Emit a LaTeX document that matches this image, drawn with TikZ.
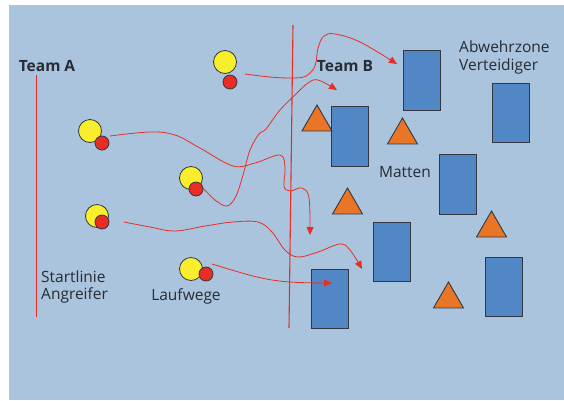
\documentclass[tikz,border=0pt]{standalone}
\usepackage{fontspec}
\setmainfont{Open Sans}
\usepackage{tikz}
\usetikzlibrary{shapes,arrows.meta,positioning}
\definecolor{feld}{RGB}{169,196,220}
\definecolor{mattblau}{RGB}{82,135,198}
\definecolor{huetchenor}{RGB}{232,118,38}
\definecolor{gelb}{RGB}{249,238,44}
\definecolor{rot}{RGB}{234,45,36}
\definecolor{rand}{RGB}{50,55,65}
\tikzstyle{matte}=[rectangle, draw=rand, fill=mattblau, line width=0.9pt, minimum width=37pt, minimum height=59.5pt, inner sep=0pt]
\tikzstyle{huetchen}=[regular polygon, regular polygon sides=3, draw=rand, fill=huetchenor, line width=0.9pt, minimum size=34.6pt, inner sep=0pt]
\tikzstyle{spieler}=[circle, draw=rand, fill=gelb, line width=0.8pt, minimum size=23pt, inner sep=0pt]
\tikzstyle{ball}=[circle, draw=rand, fill=rot, line width=0.8pt, minimum size=14pt, inner sep=0pt]
\tikzstyle{laufweg}=[draw=rot, line width=0.8pt, -{Triangle[length=8pt,width=7pt]}]
\tikzstyle{linie}=[draw=rot, line width=1.1pt]
\tikzstyle{schrift}=[font=\fontsize{15.5}{17.8}\selectfont, text=rand!80!black, inner sep=0pt]

\begin{document}
\begin{tikzpicture}[x=1pt, y=-1pt]
\useasboundingbox (0,0) rectangle (564,400);
\fill[feld] (9,5) rectangle (564,400);

% Startlinie und Mittellinie
\coordinate (startO) at (36.5,75);
\coordinate (startU) at (36.5,317);
\coordinate (mitteO) at (293,25);
\coordinate (mitteU) at (289,328);
\draw[linie] (startO) -- (startU);
\draw[linie] (mitteO) -- (mitteU);

% Matten
\node[matte] (m1) at (421.5,80.5) {};
\node[matte] (m2) at (350,136.5) {};
\node[matte] (m3) at (510.5,113) {};
\node[matte] (m4) at (457.5,184.5) {};
\node[matte] (m5) at (391.5,252) {};
\node[matte] (m6) at (329.5,299) {};
\node[matte] (m7) at (503.5,287) {};

% Verteidiger
\node[huetchen] (v1) at (317,122.3) {};
\node[huetchen] (v2) at (402.5,135.3) {};
\node[huetchen] (v3) at (347.5,205.3) {};
\node[huetchen] (v4) at (491.5,228.3) {};
\node[huetchen] (v5) at (448.5,299.3) {};

% Angreifer
\node[spieler] (s1) at (225,62) {};
\node[ball] (b1) at (230,82) {};
\node[spieler] (s2) at (90,131) {};
\node[ball] (b2) at (102,143) {};
\node[spieler] (s3) at (191,178) {};
\node[ball] (b3) at (196,189) {};
\node[spieler] (s4) at (97,216) {};
\node[ball] (b4) at (102,222) {};
\node[spieler] (s5) at (191,269) {};
\node[ball] (b5) at (206,274) {};

% Beschriftung
\node[schrift, font=\fontsize{15.5}{17.8}\selectfont\bfseries] (teamA) at (47,66) {Team A};
\node[schrift, font=\fontsize{15.5}{17.8}\selectfont\bfseries] (teamB) at (345,66) {Team B};
\node[schrift, align=left, anchor=west] (abwehr) at (459,57.5) {Abwehrzone\\Verteidiger};
\node[schrift] (matten) at (405,172) {Matten};
\node[schrift, align=left, anchor=west] (startlinie) at (41,287) {Startlinie\\Angreifer};
\node[schrift] (laufwege) at (186,296) {Laufwege};

% Laufwege
\coordinate (wa1) at (245,74);   \coordinate (wa2) at (397,64);
\coordinate (wb1) at (110,136);  \coordinate (wb2) at (310,235);
\coordinate (wc1) at (203,188);  \coordinate (wc2) at (337,90);
\coordinate (wd1) at (124,222);  \coordinate (wd2) at (362,269);
\coordinate (we1) at (212,264);  \coordinate (we2) at (332,283);

\draw[laufweg] plot[smooth, tension=0.6] coordinates {(wa1) (270,77) (292,78) (306,76) (315,66) (318,48) (324,36) (335,34) (360,42) (wa2)};
\draw[laufweg] plot[smooth, tension=0.6] coordinates {(wb1) (150,132) (175,135) (200,148) (233,166) (255,163) (280,155) (285,168) (284,186) (290,191) (302,188) (309,198) (wb2)};
\draw[laufweg] plot[smooth, tension=0.6] coordinates {(wc1) (215,200) (227,206) (236,196) (243,175) (250,150) (259,134) (266,129) (280,110) (296,94) (308,83) (318,80) (wc2)};
\draw[laufweg] plot[smooth, tension=0.6] coordinates {(wd1) (150,227) (175,231) (205,226) (233,222) (258,222) (272,232) (285,250) (298,257) (318,252) (340,244) (350,250) (wd2)};
\draw[laufweg] plot[smooth, tension=0.6] coordinates {(we1) (257,277) (290,282) (we2)};

\end{tikzpicture}
\end{document}
